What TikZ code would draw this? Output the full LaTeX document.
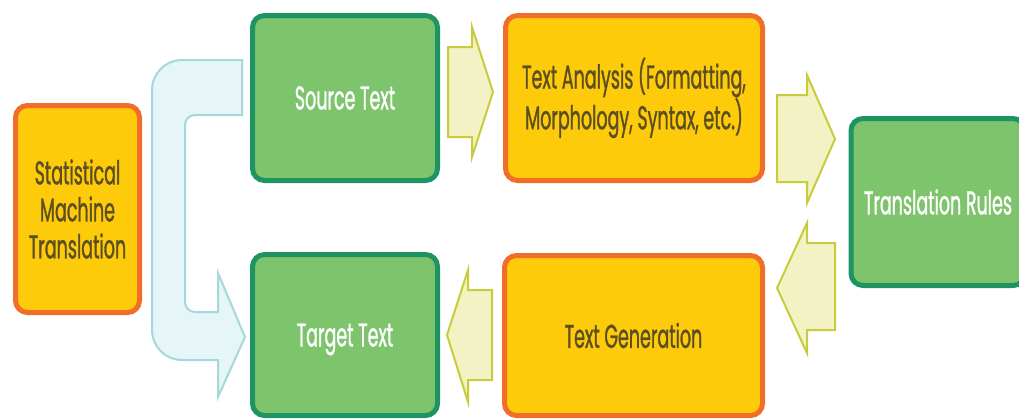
\documentclass[tikz,border=0pt]{standalone}
\usepackage{fontspec}
\setmainfont{Poppins}[FakeStretch=0.53, FakeBold=0.9]
\usetikzlibrary{positioning}

\definecolor{boxyellow}{HTML}{FECB0A}
\definecolor{boxorange}{HTML}{F26C2A}
\definecolor{boxgreen}{HTML}{7DC46C}
\definecolor{boxdkgreen}{HTML}{1E9462}
\definecolor{textolive}{HTML}{5A4E22}
\definecolor{arrfill}{HTML}{F3F2C4}
\definecolor{arredge}{HTML}{C9CB3C}
\definecolor{bluefill}{HTML}{E6F5F7}
\definecolor{blueedge}{HTML}{A5D7DD}

\begin{document}
\begin{tikzpicture}[x=1pt, y=1pt,
    ybox/.style={draw=boxorange, fill=boxyellow, line width=5pt, rounded corners=12pt,
      text=textolive, align=center, font=\fontsize{33}{37}\selectfont},
    gbox/.style={draw=boxdkgreen, fill=boxgreen, line width=5pt, rounded corners=12pt,
      text=white, align=center, font=\fontsize{33}{37}\selectfont},
    yarr/.style={draw=arredge, fill=arrfill, line width=2pt, line join=miter},
    barr/.style={draw=blueedge, fill=bluefill, line width=2pt}]
  \useasboundingbox (0,0) rectangle (1019,-418);
  \clip (0,0) rectangle (1019,-418);

  % Вигнута стрілка (синя)
  \draw[barr] (242,-60) -- (182,-60) arc[start angle=90, end angle=180, radius=30]
    -- (152,-330) arc[start angle=180, end angle=270, radius=30]
    -- (218,-360) -- (218,-397) -- (245,-337) -- (218,-273) -- (218,-312)
    -- (195,-312) arc[start angle=270, end angle=180, radius=10]
    -- (185,-125) arc[start angle=180, end angle=90, radius=10]
    -- (242,-115) -- cycle;

  % Блоки
  \node[ybox, minimum width=124, minimum height=207] (smt) at (77.5,-209)
    {Statistical\\Machine\\Translation};
  \node[gbox, minimum width=185, minimum height=165] (src) at (345,-98) {Source Text};
  \node[gbox, minimum width=185, minimum height=161, text depth=0pt] (tgt) at (345,-335) {Target Text};
  \node[ybox, minimum width=257, minimum height=165] (ana) at (634,-98)
    {Text Analysis (Formatting,\\Morphology, Syntax, etc.)};
  \node[ybox, minimum width=258, minimum height=160] (gen) at (633.5,-335.5) {Text Generation};
  \node[gbox, minimum width=174, minimum height=167] (rules) at (938,-202) {Translation Rules};

  % Стрілки між блоками
  \draw[yarr] (448,-47) -- (472,-47) -- (472,-27) -- (493,-92) -- (472,-157)
    -- (472,-137) -- (448,-137) -- cycle;
  \draw[yarr] (777,-95) -- (807,-95) -- (807,-75) -- (835,-139) -- (807,-203)
    -- (807,-182) -- (777,-182) -- cycle;
  \draw[yarr] (835,-243) -- (807,-243) -- (807,-223) -- (777,-288) -- (807,-353)
    -- (807,-330) -- (835,-330) -- cycle;
  \draw[yarr] (492,-290) -- (468,-290) -- (468,-270) -- (447,-335) -- (468,-402)
    -- (468,-380) -- (492,-380) -- cycle;
\end{tikzpicture}
\end{document}
